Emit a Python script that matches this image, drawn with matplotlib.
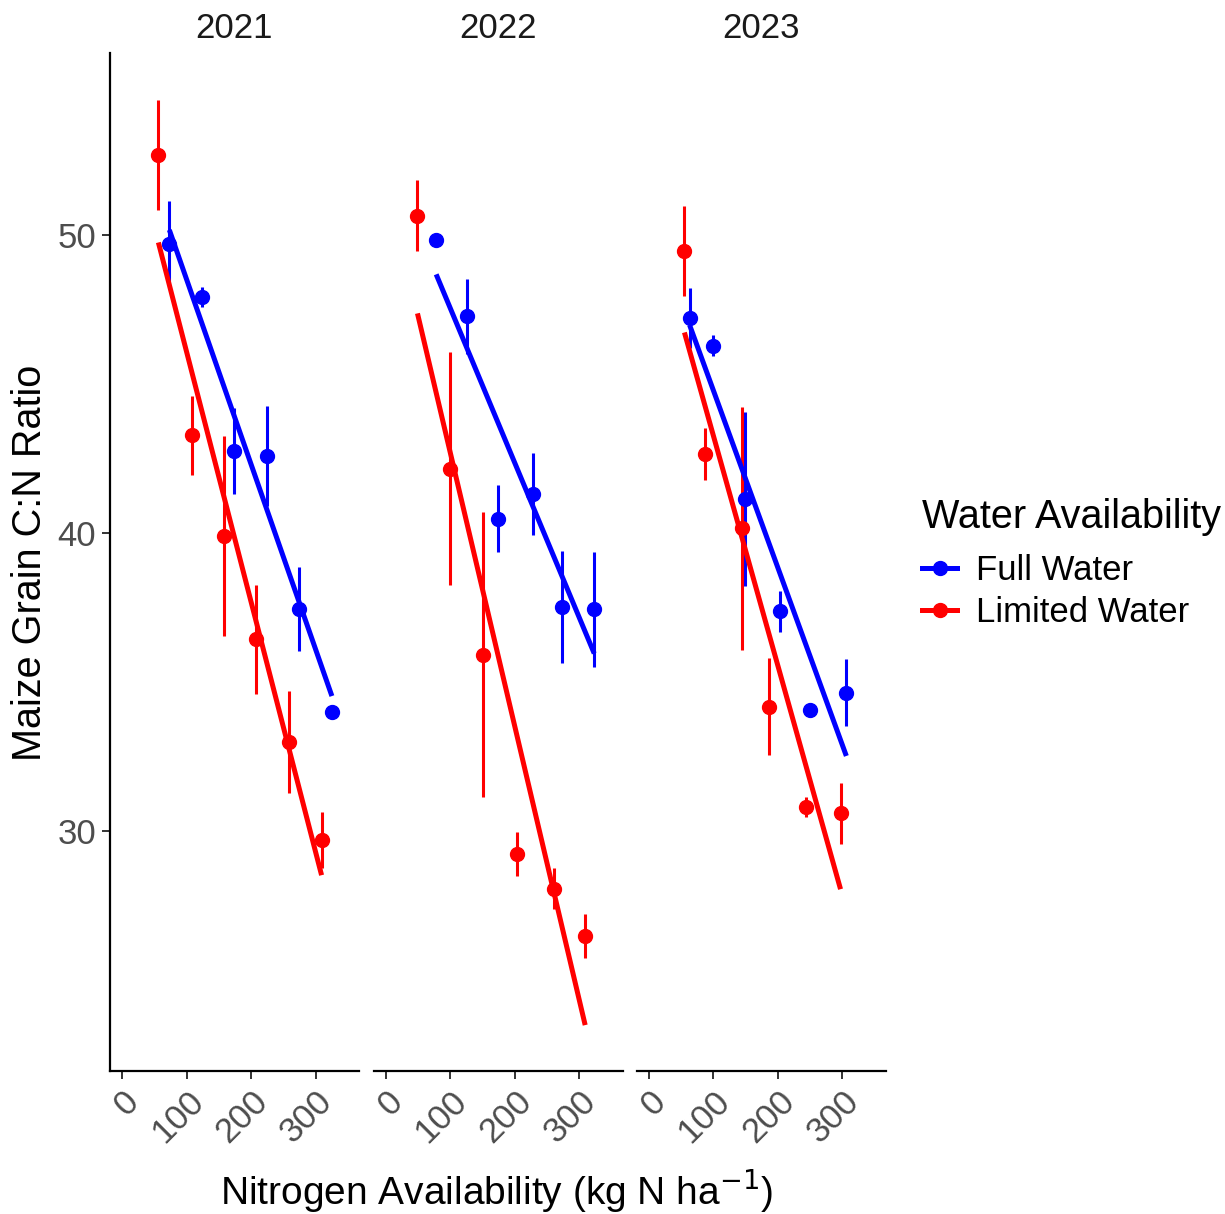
import matplotlib
matplotlib.use("Agg")
import matplotlib.pyplot as plt
from matplotlib.lines import Line2D

plt.rcParams['font.family'] = ['Liberation Sans', 'DejaVu Sans']

# --- data ---
years = ["2021", "2022", "2023"]
groups = ["Full Water", "Limited Water"]
colors = {"Full Water": "#0000ff", "Limited Water": "#ff0000"}

full_n = [[73, 124, 173, 224, 274, 325],
          [78, 126, 174, 228, 273, 323],
          [63, 99, 149, 203, 250, 306]]
full_cn = [[49.70, 47.93, 42.76, 42.58, 37.45, 33.98],
           [49.84, 47.27, 40.48, 41.30, 37.52, 37.44],
           [47.21, 46.28, 41.14, 37.37, 34.05, 34.64]]
full_se = [[1.45, 0.33, 1.45, 1.68, 1.40, 0.15],
           [0.20, 1.25, 1.12, 1.37, 1.87, 1.93],
           [1.00, 0.35, 2.93, 0.68, 0.20, 1.13]]
full_fit = [[50.17, 34.53], [48.68, 35.96], [46.98, 32.52]]

lim_n = [[56, 108, 157, 208, 258, 309],
         [49, 99, 151, 204, 261, 309],
         [55, 87, 144, 186, 243, 297]]
lim_cn = [[52.68, 43.28, 39.89, 36.43, 32.99, 29.70],
          [50.65, 42.16, 35.91, 29.24, 28.07, 26.48],
          [49.47, 42.65, 40.16, 34.18, 30.81, 30.59]]
lim_se = [[1.85, 1.33, 3.35, 1.83, 1.70, 0.95],
          [1.20, 3.90, 4.78, 0.74, 0.69, 0.73],
          [1.51, 0.87, 4.08, 1.62, 0.35, 1.02]]
lim_fit = [[49.75, 28.52], [47.37, 23.49], [46.73, 28.05]]

series = {
    "Full Water": (full_n, full_cn, full_se, full_fit),
    "Limited Water": (lim_n, lim_cn, lim_se, lim_fit),
}

W, H = 1225, 1214
fig = plt.figure(figsize=(W / 100, H / 100), dpi=100)

panel_left = [110, 373.6, 636.7]
panel_w = 249
top_px, bot_px = 53.5, 1071

tick_col = "#4d4d4d"
axes = []
for i, yr in enumerate(years):
    ax = fig.add_axes([panel_left[i] / W, 1 - bot_px / H, panel_w / W, (bot_px - top_px) / H])
    axes.append(ax)
    for g in groups:
        n, cn, se, fit = series[g]
        ax.errorbar(n[i], cn[i], yerr=se[i], fmt='o', color=colors[g], ms=10,
                    elinewidth=2.2, capsize=0, zorder=2)
        ax.plot([min(n[i]), max(n[i])], fit[i], color=colors[g], lw=3.6,
                solid_capstyle='butt', zorder=3)
    ax.set_xlim(-19, 367)
    ax.set_ylim(21.95, 56.09)
    ax.set_xticks([0, 100, 200, 300])
    ax.set_xticklabels(["0", "100", "200", "300"], rotation=45, ha='right',
                       va='top', rotation_mode='anchor', fontsize=25, color=tick_col)
    ax.set_yticks([30, 40, 50])
    ax.tick_params(axis='both', length=6, width=1.4, color="#333333", pad=4)
    for s in ['top', 'right']:
        ax.spines[s].set_visible(False)
    ax.spines['bottom'].set_linewidth(1.6)
    ax.spines['left'].set_linewidth(1.6)
    if i == 0:
        ax.tick_params(axis='y', labelsize=25, labelcolor=tick_col)
    else:
        ax.spines['left'].set_visible(False)
        ax.tick_params(axis='y', left=False, labelleft=False)
    ax.set_title(yr, fontsize=25, color="#1a1a1a", pad=11)

fig.text(30 / W, 1 - 563 / H, "Maize Grain C:N Ratio", rotation=90, fontsize=28.5,
         ha='center', va='center')
fig.text(497 / W, 1 - 1190 / H, r"Nitrogen Availability (kg N ha$^{-1}$)", fontsize=28,
         ha='center', va='center')

handles = [Line2D([0], [0], color=colors[g], lw=3.6, marker='o', ms=10) for g in groups]
leg = fig.legend(handles, groups, title="Water Availability", loc='upper left',
                 bbox_to_anchor=(891 / W, 1 - 467 / H), frameon=False, fontsize=25,
                 title_fontsize=28.5, handlelength=1.0, handletextpad=0.55,
                 labelspacing=0.25)
leg._legend_box.align = "left"
leg._legend_box.sep = 13  # extra gap between title and keys

fig.savefig("out.png", dpi=100, facecolor="white")
